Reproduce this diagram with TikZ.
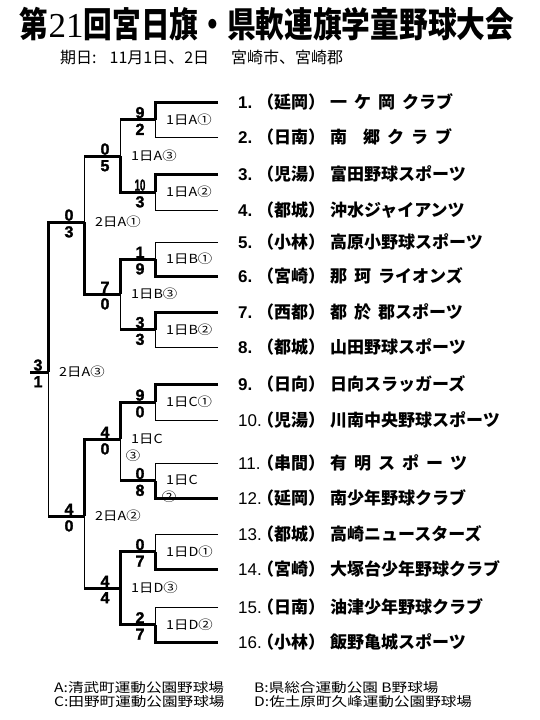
\documentclass[tikz,border=0pt]{standalone}
\usepackage{fontspec}
\setmainfont{Liberation Sans}
\newfontfamily\jp{Noto Sans CJK JP}
\newfontfamily\jpwide[FakeStretch=1.15]{Noto Sans CJK JP}
\newfontfamily\jplegend[FakeStretch=1.2]{Noto Sans CJK JP}
\newfontfamily\jptitle[FakeStretch=0.82]{Noto Sans CJK JP}
\newfontfamily\titledigits{Liberation Serif}
\newfontfamily\scorefont[FakeBold=1.6]{Liberation Sans}
\newcommand\gp{\hspace{7pt}}
\newcommand\team[3]{\makebox[19pt][l]{\ifnum#1<10 \bfseries\fi #1.}\makebox[73pt][l]{\jp\bfseries （#2）}{\jp\bfseries #3}}
\tikzset{
    won/.style={line width=3pt},
    lost/.style={line width=1pt},
    score/.style={font=\fontsize{16}{16}\selectfont\scorefont\bfseries, inner sep=1pt},
    tag/.style={font=\fontsize{12.5}{13}\selectfont\jpwide, inner sep=0pt},
    match/.style={tag, anchor=west, xshift=11pt},   % game label right of the joint
    team/.style={anchor=west, inner sep=0pt, font=\fontsize{17}{17}\selectfont},
    legend/.style={anchor=west, inner sep=0pt, font=\fontsize{13}{13}\selectfont\jplegend}
    }

\begin{document}
\begin{tikzpicture}[x=1pt,y=-1pt]
	\useasboundingbox (0,0) rectangle (540,720);
	\node[inner sep=0pt, font=\fontsize{35}{35}\selectfont\jptitle\bfseries] (title) at (267,24)
		{第{\titledigits\mdseries 21}回宮日旗・県軟連旗学童野球大会};
	\node[anchor=west, inner sep=0pt, font=\fontsize{16}{16}\selectfont\jp] (date) at (60,57)
		{期日:\hspace{13pt}11月1日、2日\hspace{22pt}宮崎市、宮崎郡};

	\foreach \i/\y/\area/\name in {
		1/102/延岡/一\gp ケ\gp 岡\gp クラブ,
		2/137/日南/南\hspace{16pt}郷\gp ク\gp ラ\gp ブ,
		3/174/児湯/富田野球スポーツ,
		4/210/都城/沖水ジャイアンツ,
		5/242/小林/高原小野球スポーツ,
		6/276/宮崎/那\gp 珂\gp ライオンズ,
		7/312/西都/都\gp 於\gp 郡スポーツ,
		8/347/都城/山田野球スポーツ,
		9/384/日向/日向スラッガーズ,
		10/420/児湯/川南中央野球スポーツ,
		11/463/串間/有\gp 明\gp ス\gp ポ\gp ー\gp ツ,
		12/498/延岡/南少年野球クラブ,
		13/534/都城/高崎ニュースターズ,
		14/569/宮崎/大塚台少年野球クラブ,
		15/607/日南/油津少年野球クラブ,
		16/642/小林/飯野亀城スポーツ}{
		\coordinate (e\i) at (218,\y);
		\node[team] (t\i) at (238,\y) {\team{\i}{\area}{\name}};
	}

	\foreach \m/\x/\y in {A1/155/119.5, A2/155/192, B1/155/259, B2/155/329.5,
		C1/155/402, C2/155/480.5, D1/155/551.5, D2/155/624.5,
		A3/120/156, B3/120/294, C3/120/439, D3/120/588,
		S1/84/222, S2/84/516, F/48/372}
		\coordinate (\m) at (\x,\y);
	\coordinate (W) at (30,372);

	\foreach \i/\m/\s in {1/A1/won, 2/A1/lost, 3/A2/won, 4/A2/lost,
		5/B1/lost, 6/B1/won, 7/B2/won, 8/B2/lost,
		9/C1/won, 10/C1/lost, 11/C2/lost, 12/C2/won,
		13/D1/lost, 14/D1/won, 15/D2/lost, 16/D2/won}
		\draw[\s] (e\i) -| (\m);

	\foreach \c/\p/\s in {A1/A3/lost, A2/A3/won, B1/B3/won, B2/B3/lost,
		C1/C3/won, C2/C3/lost, D1/D3/won, D2/D3/won,
		A3/S1/lost, B3/S1/won, C3/S2/won, D3/S2/lost,
		S1/F/won, S2/F/lost}{
		\draw[\s] (\c) -| (\p);
		\draw[won] (\c) -- (\c -| \p);
	}
	\draw[won] (F) -- (W);

	\foreach \m/\a/\b in {A1/9/2, A2/\scalebox{.6}[1]{10}/3, B1/1/9, B2/3/3,
		C1/9/0, C2/0/8, D1/0/7, D2/2/7,
		A3/0/5, B3/7/0, C3/4/0, D3/4/4, S1/0/3, S2/4/0}
		\path (\m) ++(-15,0) node[score,above] (\m-t) {\a} node[score,below=3pt] (\m-b) {\b};
	\path (F) ++(-10,0) node[score,above] (F-t) {3} node[score,below=3pt] (F-b) {1};

	\foreach \m/\t in {A1/1日A①, A2/1日A②, B1/1日B①, B2/1日B②, C1/1日C①, C2/1日C,
		D1/1日D①, D2/1日D②, A3/1日A③, B3/1日B③, C3/1日C, D3/1日D③,
		S1/2日A①, S2/2日A②, F/2日A③}
		\node[match] (\m-l) at (\m) {\t};
	\node[tag] (C2-n) at ([xshift=14pt,yshift=-16pt]C2) {②};
	\node[tag] (C3-n) at ([xshift=13pt,yshift=-17pt]C3) {③};

	\node[legend] (la) at (54,688) {A:清武町運動公園野球場};
	\node[legend] (lb) at (254,688) {B:県総合運動公園 B野球場};
	\node[legend] (lc) at (54,702) {C:田野町運動公園野球場};
	\node[legend] (ld) at (254,702) {D:佐土原町久峰運動公園野球場};
\end{tikzpicture}
\end{document}
